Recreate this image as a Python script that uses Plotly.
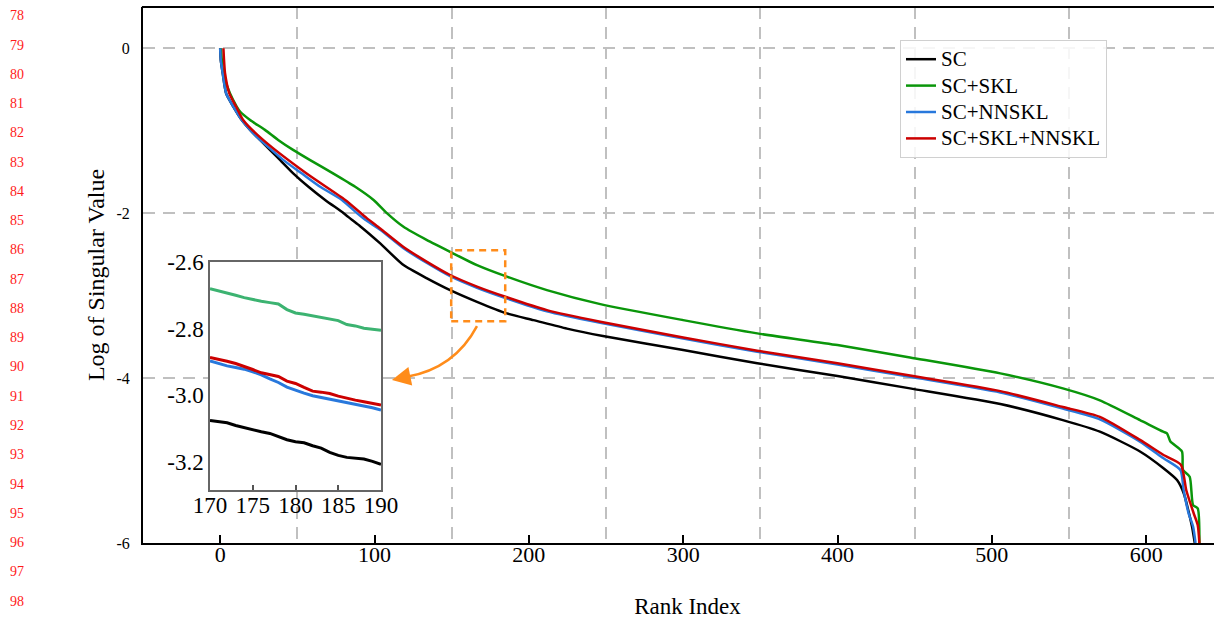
import plotly.graph_objects as go

# ---------------- data ----------------
sc_x = [0, 0.4, 1.7, 3.9, 8.6, 14, 19.4, 26, 32.4, 38.9, 47.5, 57.2, 68, 80, 85.3, 90.7, 103.7,
        118.8, 134, 149, 166.4, 185.8, 203, 224.7, 248, 300, 348, 400, 447, 505.5, 546, 570, 596,
        611, 620, 624.4, 627.5, 629.7, 631.5]
sc_y = [0, -0.145, -0.31, -0.55, -0.71, -0.87, -0.99, -1.115, -1.236, -1.357, -1.52, -1.68, -1.84,
        -2.0, -2.08, -2.158, -2.367, -2.63, -2.79, -2.933, -3.075, -3.216, -3.297, -3.4, -3.49,
        -3.66, -3.82, -3.976, -4.125, -4.315, -4.51, -4.65, -4.89, -5.09, -5.236, -5.4, -5.62,
        -5.8, -6.0]

skl_x = [0.5, 2, 6.4, 10.8, 13, 19.4, 29, 37.8, 47.5, 58.3, 73.4, 87.5, 99.4, 108, 118.8, 134,
         149, 166.4, 185.8, 211.7, 246.3, 300, 348, 400, 447, 505.5, 546, 570, 596, 611, 613.5,
         615.7, 623.2, 623.9, 628.2, 630.4, 633.4, 634.5]
skl_y = [0, -0.3, -0.55, -0.71, -0.77, -0.87, -0.99, -1.115, -1.236, -1.357, -1.52, -1.68, -1.84,
         -2.0, -2.166, -2.327, -2.469, -2.63, -2.77, -2.933, -3.103, -3.297, -3.458, -3.6, -3.75,
         -3.943, -4.125, -4.27, -4.51, -4.65, -4.67, -4.77, -4.89, -5.115, -5.196, -5.54, -5.58,
         -6.0]

nnskl_x = [0, 0.4, 1.7, 3.9, 8.6, 14, 19.4, 26, 33.5, 41, 53, 64.8, 78.9, 88.6, 94, 103.7, 118.8,
           134, 149, 166.4, 185.8, 211.7, 246.3, 300, 348, 400, 447, 505.5, 546, 570, 596, 611,
           622.2, 624.3, 627.5, 630.4, 632]
nnskl_y = [0, -0.145, -0.31, -0.55, -0.71, -0.87, -0.99, -1.115, -1.236, -1.357, -1.52, -1.68,
           -1.84, -2.0, -2.08, -2.2, -2.425, -2.605, -2.765, -2.905, -3.035, -3.19, -3.33, -3.52,
           -3.68, -3.835, -3.985, -4.175, -4.37, -4.5, -4.77, -4.97, -5.115, -5.36, -5.64, -5.8,
           -6.0]

all_x = [2.1, 3.2, 6, 10.4, 14.9, 28, 56, 81, 95, 103.7, 118.8, 134, 149, 166.4, 185.8, 211.7,
         246.3, 300, 348, 400, 447, 505.5, 546, 570, 596, 611, 622.5, 626, 630.8, 633.4, 634.5]
all_y = [0, -0.31, -0.55, -0.71, -0.87, -1.115, -1.52, -1.84, -2.06, -2.186, -2.41, -2.59, -2.75,
         -2.89, -3.02, -3.176, -3.317, -3.507, -3.668, -3.82, -3.97, -4.158, -4.35, -4.47, -4.75,
         -4.93, -5.05, -5.36, -5.64, -5.78, -6.0]

# zoomed inset (rank 170-190)
inset_x = list(range(170, 191))
inset_sc = [-3.076, -3.079, -3.083, -3.091, -3.098, -3.105, -3.110, -3.115, -3.125, -3.134, -3.140,
            -3.143, -3.152, -3.159, -3.172, -3.181, -3.187, -3.190, -3.192, -3.199, -3.208]
inset_skl = [-2.680, -2.686, -2.693, -2.700, -2.707, -2.713, -2.718, -2.722, -2.726, -2.743, -2.753,
             -2.757, -2.762, -2.768, -2.772, -2.776, -2.788, -2.792, -2.799, -2.803, -2.805]
inset_nnskl = [-2.897, -2.905, -2.912, -2.917, -2.922, -2.930, -2.939, -2.951, -2.962, -2.976,
               -2.986, -2.994, -3.002, -3.007, -3.012, -3.017, -3.021, -3.026, -3.031, -3.038,
               -3.045]
inset_all = [-2.887, -2.892, -2.898, -2.905, -2.913, -2.923, -2.933, -2.938, -2.944, -2.958, -2.965,
             -2.977, -2.988, -2.991, -2.995, -3.003, -3.010, -3.015, -3.020, -3.025, -3.030]

series_names = ["SC", "SC+SKL", "SC+NNSKL", "SC+SKL+NNSKL"]
main_colors = ["#000000", "#0a960a", "#2878dc", "#cc0000"]
inset_colors = ["#000000", "#3cb371", "#2878dc", "#cc0000"]

x_ticks = [0, 100, 200, 300, 400, 500, 600]
x_grid = [50, 150, 250, 350, 450, 550]
y_ticks = [0, -2, -4, -6]
y_ticktext = ["0", "-2", "-4", "-6"]
inset_xticks = [170, 175, 180, 185, 190]
inset_yticks = [-2.6, -2.8, -3.0, -3.2]
inset_yticktext = ["-2.6", "-2.8", "-3.0", "-3.2"]
line_numbers = list(range(78, 99))

FONT = "Liberation Serif, Times New Roman, serif"

fig = go.Figure()

main_data = [(sc_x, sc_y), (skl_x, skl_y), (nnskl_x, nnskl_y), (all_x, all_y)]
for name, (xs, ys), col in zip(series_names, main_data, main_colors):
    fig.add_trace(go.Scatter(x=xs, y=ys, mode="lines",
                             name='<span style="font-size:21px">' + name + "</span>",
                             line=dict(color=col, width=2.5, shape="spline", smoothing=0.6),
                             xaxis="x", yaxis="y"))

inset_data = [inset_sc, inset_skl, inset_nnskl, inset_all]
for name, ys, col in zip(series_names, inset_data, inset_colors):
    fig.add_trace(go.Scatter(x=inset_x, y=ys, mode="lines", name=name, showlegend=False,
                             line=dict(color=col, width=3), xaxis="x2", yaxis="y2"))

VIEW_H = 621
W, H = 1232, VIEW_H          # figure slightly wider than the window: right side is cut off
ML, MT, MB, MR = 143, 7, 78, 0
PW, PH = W - ML - MR, H - MT - MB
PX_PER_UNIT = 926 / 600      # horizontal scale
X_MIN = -50
X_MAX = X_MIN + PW / PX_PER_UNIT


def px_x(p):
    return (p - ML) / PW


def px_y(p):
    return (H - MB - p) / PH


grid_col = "#c0c0c0"

fig.update_layout(
    width=W, height=H, autosize=False,
    margin=dict(l=ML, r=MR, t=MT, b=MB, pad=0, autoexpand=False),
    paper_bgcolor="white", plot_bgcolor="white",
    font=dict(family=FONT, color="black"),
    showlegend=True,
    legend=dict(x=px_x(900), y=px_y(40), xanchor="left", yanchor="top",
                bgcolor="rgba(255,255,255,0.85)", bordercolor="#d0d0d0", borderwidth=1,
                font=dict(size=18, family=FONT), tracegroupgap=0),
    xaxis=dict(
        domain=[0, 1], range=[X_MIN, X_MAX], tickvals=x_ticks,
        ticks="inside", ticklen=8, tickwidth=2, tickcolor="black",
        showline=True, linewidth=2, linecolor="black", mirror=False,
        showgrid=False, zeroline=False, automargin=False, ticklabelstandoff=-9,
        minor=dict(tickvals=x_grid, showgrid=True, gridcolor=grid_col, gridwidth=2,
                   griddash="12px,8px", ticks=""),
        tickfont=dict(size=22, family=FONT),
        title=dict(text="Rank Index", font=dict(size=23, family=FONT), standoff=31),
    ),
    yaxis=dict(
        domain=[0, 1], range=[-6, 0.5], tickvals=y_ticks, ticktext=y_ticktext,
        ticks="", showline=True, linewidth=2, linecolor="black", mirror=False,
        showgrid=True, gridcolor=grid_col, gridwidth=2, griddash="12px,8px",
        zeroline=False, ticklabelstandoff=8, automargin=False,
        tickfont=dict(size=16, family=FONT),
        title=dict(text="Log of Singular Value", font=dict(size=24, family=FONT), standoff=5),
    ),
    xaxis2=dict(
        domain=[px_x(210), px_x(381)], anchor="y2", range=[170, 190], tickvals=inset_xticks,
        ticks="inside", ticklen=5, tickwidth=1.5, tickcolor="#555555",
        showline=True, linewidth=1.5, linecolor="#666666", mirror=True,
        showgrid=False, zeroline=False, automargin=False, ticklabelstandoff=-6,
        tickfont=dict(size=23, family=FONT),
    ),
    yaxis2=dict(
        domain=[px_y(490), px_y(262)], anchor="x2", range=[-3.285, -2.6], tickvals=inset_yticks,
        ticktext=inset_yticktext, ticks="", showline=True, linewidth=1.5, linecolor="#666666",
        mirror=True, showgrid=False, zeroline=False, automargin=False,
        tickfont=dict(size=23, family=FONT),
    ),
)

# top frame line of the main axes (the right side of the frame is cut off in the reference)
fig.add_shape(type="line", xref="paper", yref="paper", x0=-0.001, x1=1, y0=1, y1=1,
              line=dict(color="black", width=2))

# orange dashed zoom box
fig.add_shape(type="rect", xref="x", yref="y", x0=149.7, x1=184.7, y0=-3.31, y1=-2.45,
              line=dict(color="#ff8c1a", width=2.5, dash="7px,5px"))
# curved arrow to inset
fig.add_shape(type="path", xref="x", yref="y",
              path="M 166.4,-3.37 Q 152,-3.88 121,-3.985",
              line=dict(color="#ff8c1a", width=2.5))
fig.add_annotation(x=111.3, y=-4.024, ax=124, ay=-3.975, xref="x", yref="y",
                   axref="x", ayref="y", text="", showarrow=True, arrowhead=2,
                   arrowsize=1.5, arrowwidth=2.5, arrowcolor="#ff8c1a")

# manuscript line numbers on the left margin
for k, num in enumerate(line_numbers):
    fig.add_annotation(x=px_x(17), y=px_y(16 + 29.25 * k), xref="paper", yref="paper",
                       text=str(num), showarrow=False, xanchor="center", yanchor="middle",
                       font=dict(size=14, color="#ff1a1a", family=FONT))

fig.write_html(
    "out.html",
    config={"displayModeBar": False},
    post_script="document.documentElement.style.overflow='hidden';"
                "document.body.style.margin='0';document.body.style.padding='0';"
                "document.body.style.overflow='hidden';",
)
